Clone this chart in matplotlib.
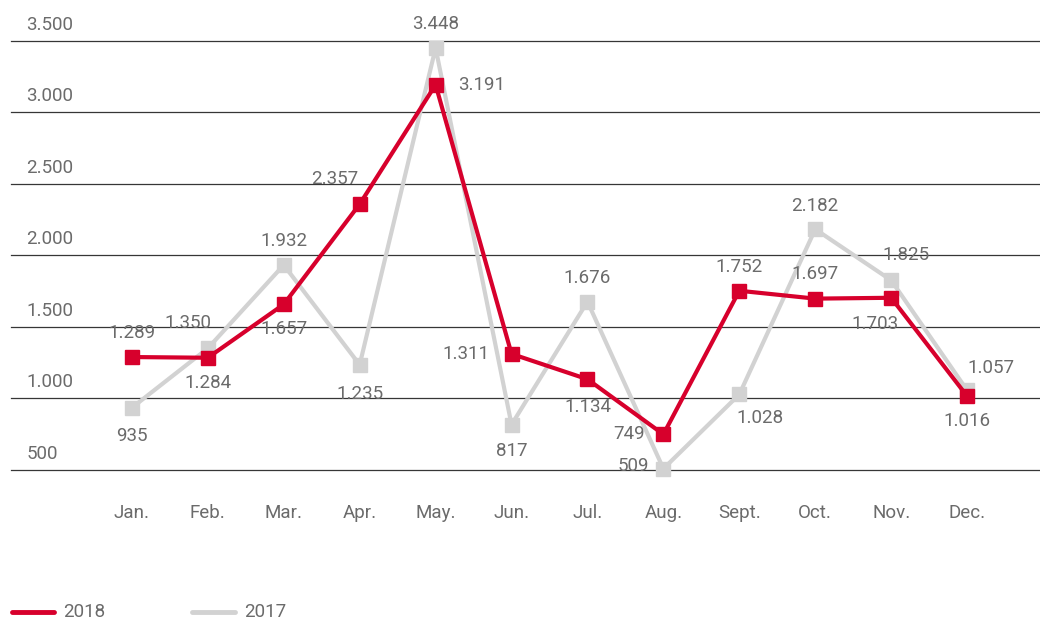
import matplotlib
matplotlib.use("Agg")
import matplotlib.pyplot as plt
from matplotlib.lines import Line2D

months = ["Jan.", "Feb.", "Mar.", "Apr.", "May.", "Jun.", "Jul.", "Aug.", "Sept.", "Oct.", "Nov.", "Dec."]
values_2018 = [1289, 1284, 1657, 2357, 3191, 1311, 1134, 749, 1752, 1697, 1703, 1016]
values_2017 = [935, 1350, 1932, 1235, 3448, 817, 1676, 509, 1028, 2182, 1825, 1057]
y_ticks = [500, 1000, 1500, 2000, 2500, 3000, 3500]

RED = "#d7002c"
GREY = "#d2d2d2"
TEXT = "#6b6b6b"
FONT = ["Roboto", "DejaVu Sans"]
FS = 13.5

# label offsets in points (dx, dy) for each value label
off_2018 = [(0, 17), (0, -18), (0, -18), (-18, 18), (33, 0), (-33, 0),
            (0, -20), (-25, 0), (0, 17), (0, 18), (-12, -19), (0, -18)]
off_2017 = [(0, -20), (-14, 18), (0, 17), (0, -21), (0, 17), (0, -19),
            (0, 17), (-22, 2), (15, -17), (0, 17), (11, 18), (17, 16)]


def fmt(v):
    return f"{v:,}".replace(",", ".")


fig = plt.figure(figsize=(10.4, 6.22), dpi=100)
ax = fig.add_axes([11 / 1040, 1 - 470 / 622, 1029 / 1040, 429.5 / 622])
x = list(range(len(months)))
ax.set_xlim(-1.592, 11.96)
ax.set_ylim(500, 3500)

for t in y_ticks:
    ax.axhline(t, color="#363636", lw=0.9, zorder=1, clip_on=False)
    ax.annotate(fmt(t), xy=(0, t), xycoords=("axes fraction", "data"),
                xytext=(11, 5), textcoords="offset points", ha="left", va="bottom",
                color=TEXT, fontsize=FS, family=FONT)

ax.plot(x, values_2017, color=GREY, lw=3, marker="s", ms=10.5, zorder=3,
        clip_on=False, solid_joinstyle="miter")
ax.plot(x, values_2018, color=RED, lw=3, marker="s", ms=10.5, zorder=4,
        clip_on=False, solid_joinstyle="miter")

for xi, v, (dx, dy) in zip(x, values_2017, off_2017):
    ax.annotate(fmt(v), xy=(xi, v), xytext=(dx, dy), textcoords="offset points",
                ha="center", va="center", color=TEXT, fontsize=FS, family=FONT, zorder=5)
for xi, v, (dx, dy) in zip(x, values_2018, off_2018):
    ax.annotate(fmt(v), xy=(xi, v), xytext=(dx, dy), textcoords="offset points",
                ha="center", va="center", color=TEXT, fontsize=FS, family=FONT, zorder=5)

for xi, m in zip(x, months):
    ax.annotate(m, xy=(xi, 0), xycoords=("data", "axes fraction"),
                xytext=(0, -31), textcoords="offset points", ha="center", va="center",
                color=TEXT, fontsize=FS, family=FONT)

for s in ax.spines.values():
    s.set_visible(False)
ax.set_xticks([])
ax.set_yticks([])

# legend drawn along the bottom edge
ly = 1 - 612 / 622
fig.add_artist(Line2D([12 / 1040, 54 / 1040], [ly, ly], color=RED, lw=3.5,
                      solid_capstyle="round", transform=fig.transFigure))
fig.text(63 / 1040, ly, "2018", ha="left", va="center", color=TEXT, fontsize=FS, family=FONT)
fig.add_artist(Line2D([192 / 1040, 235 / 1040], [ly, ly], color=GREY, lw=3.5,
                      solid_capstyle="round", transform=fig.transFigure))
fig.text(244 / 1040, ly, "2017", ha="left", va="center", color=TEXT, fontsize=FS, family=FONT)

fig.savefig("out.png", dpi=100)
